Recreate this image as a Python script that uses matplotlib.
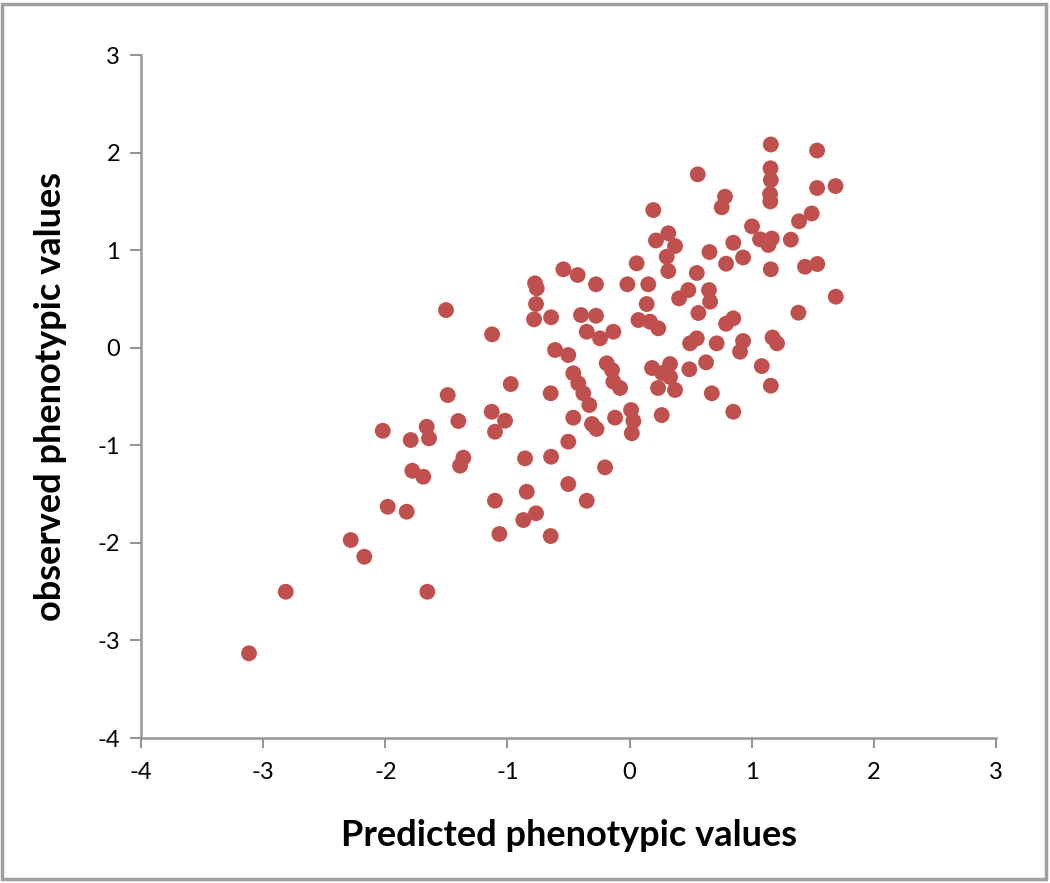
import numpy as np
from matplotlib import pyplot as plt
from matplotlib.patches import Rectangle

predicted = [
    -1.489, -1.402, -2.021, -1.661, -1.642, -1.792, -1.361, -1.388, -1.779, -1.689,
    -1.980, -1.825, -2.283, -2.172, -2.815, -1.656, -3.116, -1.503, -1.126, -0.542,
    -0.425, -0.275, 0.058, -0.018, 0.153, -0.774, -0.760, -0.766, -0.782, -0.643,
    -0.398, -0.275, -0.351, -0.242, -0.133, 0.140, 0.072, 0.167, 0.235, -0.610,
    -0.502, -0.461, -0.420, -0.379, -0.330, -0.187, -0.144, -0.133, -0.078, 0.184,
    0.266, 0.331, 0.331, 0.233, 0.372, -0.973, -0.646, -0.461, -0.308, -0.271,
    -0.119, 0.012, 0.031, 0.018, 0.263, -1.129, -1.020, -1.102, -0.502, -0.856,
    -0.643, -0.201, -0.502, -0.842, -0.351, -1.102, -0.766, -0.870, -1.066, -0.646,
    1.156, 1.535, 0.558, 1.154, 1.156, 1.150, 1.152, 1.535, 1.686, 0.781,
    0.754, 0.194, 1.491, 1.387, 1.002, 0.317, 0.216, 0.372, 0.304, 0.317,
    0.849, 1.068, 1.164, 1.136, 1.320, 0.654, 0.790, 0.929, 1.156, 1.436,
    1.537, 1.688, 1.382, 0.550, 0.481, 0.405, 0.650, 0.659, 0.563, 0.849,
    0.790, 0.495, 0.550, 0.713, 0.929, 0.904, 1.170, 1.207, 0.489, 0.626,
    1.082, 0.673, 1.156, 0.849,
]
observed = [
    -0.485, -0.751, -0.851, -0.810, -0.929, -0.946, -1.127, -1.209, -1.261, -1.322,
    -1.630, -1.681, -1.971, -2.142, -2.501, -2.501, -3.132, 0.386, 0.137, 0.804,
    0.745, 0.650, 0.865, 0.650, 0.650, 0.660, 0.609, 0.448, 0.291, 0.312,
    0.335, 0.328, 0.164, 0.096, 0.164, 0.448, 0.284, 0.267, 0.199, -0.023,
    -0.075, -0.262, -0.365, -0.467, -0.587, -0.160, -0.228, -0.348, -0.413, -0.208,
    -0.259, -0.167, -0.300, -0.413, -0.433, -0.372, -0.467, -0.717, -0.782, -0.833,
    -0.717, -0.638, -0.751, -0.877, -0.690, -0.656, -0.748, -0.861, -0.963, -1.134,
    -1.117, -1.226, -1.397, -1.476, -1.568, -1.568, -1.697, -1.766, -1.909, -1.930,
    2.083, 2.021, 1.777, 1.839, 1.719, 1.575, 1.499, 1.637, 1.657, 1.548,
    1.439, 1.411, 1.376, 1.296, 1.244, 1.173, 1.099, 1.042, 0.933, 0.786,
    1.076, 1.111, 1.119, 1.053, 1.108, 0.981, 0.861, 0.925, 0.804, 0.830,
    0.858, 0.523, 0.359, 0.766, 0.591, 0.506, 0.591, 0.472, 0.356, 0.301,
    0.246, 0.045, 0.096, 0.045, 0.069, -0.041, 0.105, 0.045, -0.221, -0.150,
    -0.188, -0.467, -0.389, -0.656,
]
ticks = [-4, -3, -2, -1, 0, 1, 2, 3]

plt.rcParams['font.family'] = ['Lato', 'DejaVu Sans']

fig = plt.figure(figsize=(10.5, 8.83), dpi=100)
ax = fig.add_axes([0.1343, 0.1642, 0.8143, 0.7735])

ax.scatter(predicted, observed, s=130, color="#C0504D", edgecolors="none", zorder=3)

ax.set_xlim(-4, 3)
ax.set_ylim(-4, 3)
ax.set_xticks(ticks)
ax.set_yticks(ticks)
ax.set_xticklabels([str(t) for t in ticks], fontsize=17)
ax.set_yticklabels([str(t) for t in ticks], fontsize=17)

for side in ("top", "right"):
    ax.spines[side].set_visible(False)
for side in ("left", "bottom"):
    ax.spines[side].set_color("#969696")
    ax.spines[side].set_linewidth(1.8)
ax.tick_params(axis="x", direction="out", length=7.5, width=1.5, color="#969696", pad=10)
ax.tick_params(axis="y", direction="out", length=8, width=1.5, color="#969696", pad=7)

ax.set_xlabel("Predicted phenotypic values", fontsize=26, fontweight="bold", labelpad=26)
ax.set_ylabel("observed phenotypic values", fontsize=26, fontweight="bold", labelpad=22)

# grey frame around the whole chart
fig.patches.append(Rectangle((0.002, 0.004), 0.994, 0.992, transform=fig.transFigure,
                             fill=False, edgecolor="#a0a0a0", linewidth=2.5))

fig.savefig("out.png", dpi=100)
